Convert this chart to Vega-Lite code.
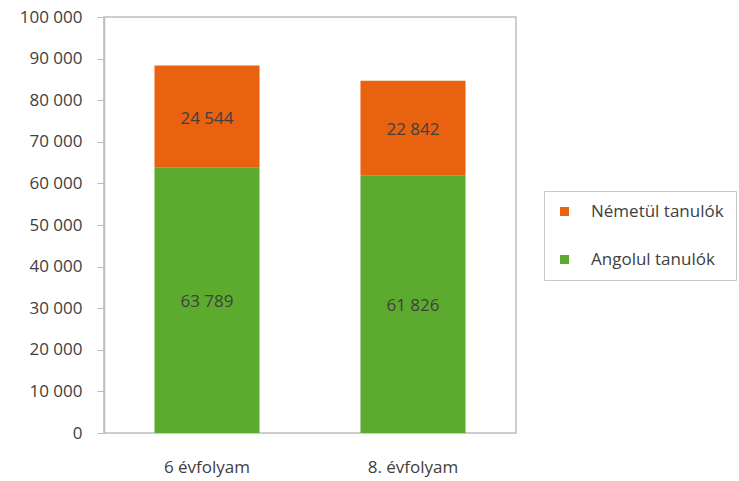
{
  "$schema": "https://vega.github.io/schema/vega-lite/v6.json",
  "width": 412,
  "height": 416,
  "autosize": "none",
  "padding": {"left": 104, "top": 17, "right": 223, "bottom": 48},
  "background": "white",
  "config": {
    "locale": {"number": {"decimal": ",", "thousands": " ", "grouping": [3], "currency": ["", " Ft"]}},
    "view": {"stroke": "#bdbdbd", "strokeWidth": 1.5},
    "font": "Open Sans"
  },
  "data": {
    "values": [
      {"evfolyam": "6 évfolyam", "nyelv": "Angolul tanulók", "tanulok": 63789, "rend": 1},
      {"evfolyam": "6 évfolyam", "nyelv": "Németül tanulók", "tanulok": 24544, "rend": 2},
      {"evfolyam": "8. évfolyam", "nyelv": "Angolul tanulók", "tanulok": 61826, "rend": 1},
      {"evfolyam": "8. évfolyam", "nyelv": "Németül tanulók", "tanulok": 22842, "rend": 2}
    ]
  },
  "transform": [
    {"stack": "tanulok", "groupby": ["evfolyam"], "sort": [{"field": "rend", "order": "ascending"}], "as": ["y0", "y1"]},
    {"calculate": "(datum.y0 + datum.y1) / 2", "as": "ymid"}
  ],
  "encoding": {
    "x": {
      "field": "evfolyam",
      "type": "nominal",
      "title": null,
      "scale": {"paddingInner": 0.49, "paddingOuter": 0.245},
      "axis": {"labelAngle": 0, "ticks": false, "domain": false, "labelPadding": 26, "labelFontSize": 17, "labelColor": "#404040"}
    }
  },
  "layer": [
    {
      "mark": {"type": "bar"},
      "encoding": {
        "y": {
          "field": "y0",
          "type": "quantitative",
          "title": null,
          "scale": {"domain": [0, 100000]},
          "axis": {"tickCount": 10, "format": ",d", "grid": false, "domainColor": "#bdbdbd", "domainWidth": 1.5, "tickColor": "#bdbdbd", "tickSize": 7, "labelPadding": 15, "labelFontSize": 17, "labelColor": "#404040"}
        },
        "y2": {"field": "y1"},
        "color": {
          "field": "nyelv",
          "type": "nominal",
          "scale": {"domain": ["Németül tanulók", "Angolul tanulók"], "range": ["#E9620F", "#5CAB2F"]},
          "legend": {
            "title": null,
            "orient": "none",
            "legendX": 440,
            "legendY": 174,
            "direction": "vertical",
            "symbolType": "square",
            "symbolSize": 81,
            "symbolStrokeWidth": 0,
            "labelFontSize": 17,
            "labelColor": "#404040",
            "labelOffset": 18,
            "rowPadding": 30,
            "padding": 12,
            "strokeColor": "#c8c8c8",
            "fillColor": "white"
          }
        }
      }
    },
    {
      "mark": {"type": "text", "fontSize": 17, "color": "#404040", "dy": 2},
      "encoding": {
        "y": {"field": "ymid", "type": "quantitative"},
        "text": {"field": "tanulok", "type": "quantitative", "format": ",d"}
      }
    }
  ]
}
